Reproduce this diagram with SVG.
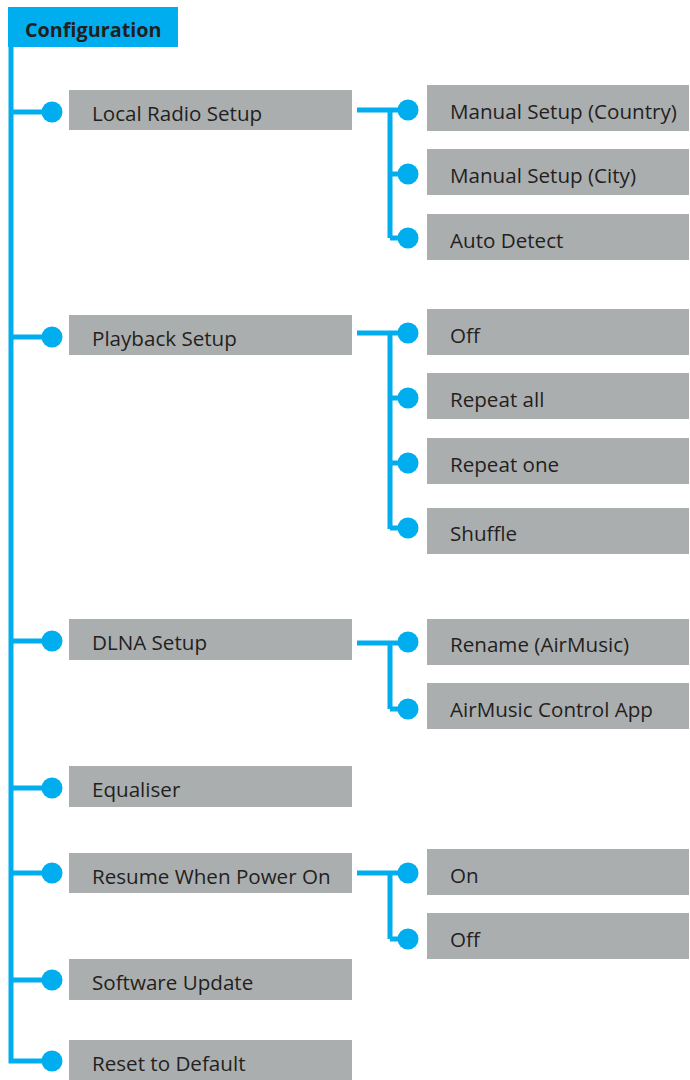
<svg xmlns="http://www.w3.org/2000/svg" width="690" height="1080" viewBox="0 0 690 1080">
<style>
.box{fill:#abaeaf}
.t{font-family:"Open Sans","Noto Sans","Liberation Sans",sans-serif;font-size:20.6px;fill:#231f20}
.ln{stroke:#00aeef;stroke-width:5;fill:none}
.dot{fill:#00aeef}
</style>
<rect width="690" height="1080" fill="#ffffff"/>
<g id="connectors">
  <path class="ln" d="M11,47 V1061 H52"/>
  <path class="ln" d="M11,112 H52 M11,337 H52 M11,641 H52 M11,788 H52 M11,873 H52 M11,980 H52"/>
  <path class="ln" d="M357,110 H408 M390,110 V238 M390,174 H408 M390,238 H408"/>
  <path class="ln" d="M357,333 H408 M390,333 V529 M390,398 H408 M390,463 H408 M390,528 H408"/>
  <path class="ln" d="M357,643 H408 M390,643 V709 M390,709 H408"/>
  <path class="ln" d="M357,873 H408 M390,873 V939 M390,939 H408"/>
  <g class="dot">
    <circle cx="52" cy="112" r="10.5"/><circle cx="52" cy="337" r="10.5"/><circle cx="52" cy="641" r="10.5"/>
    <circle cx="52" cy="788" r="10.5"/><circle cx="52" cy="873" r="10.5"/><circle cx="52" cy="980" r="10.5"/>
    <circle cx="52" cy="1061" r="10.5"/>
    <circle cx="408" cy="110" r="10.5"/><circle cx="408" cy="174" r="10.5"/><circle cx="408" cy="238" r="10.5"/>
    <circle cx="408" cy="333" r="10.5"/><circle cx="408" cy="398" r="10.5"/><circle cx="408" cy="463" r="10.5"/><circle cx="408" cy="528" r="10.5"/>
    <circle cx="408" cy="642" r="10.5"/><circle cx="408" cy="709" r="10.5"/>
    <circle cx="408" cy="873" r="10.5"/><circle cx="408" cy="939" r="10.5"/>
  </g>
</g>
<g id="configuration">
  <rect x="8" y="7" width="170" height="40" fill="#00aeef"/>
  <text x="25" y="37" style="font-family:'Open Sans','Noto Sans','Liberation Sans',sans-serif;font-size:19.8px;font-weight:bold;fill:#231f20">Configuration</text>
</g>
<g id="local-radio-setup"><rect class="box" x="69" y="90" width="283" height="40"/><text class="t" x="92" y="121">Local Radio Setup</text></g>
<g id="manual-setup-country"><rect class="box" x="427" y="85" width="262" height="46"/><text class="t" x="450" y="119">Manual Setup (Country)</text></g>
<g id="manual-setup-city"><rect class="box" x="427" y="149" width="262" height="46"/><text class="t" x="450" y="183">Manual Setup (City)</text></g>
<g id="auto-detect"><rect class="box" x="427" y="214" width="262" height="46"/><text class="t" x="450" y="248">Auto Detect</text></g>
<g id="playback-setup"><rect class="box" x="69" y="315" width="283" height="40"/><text class="t" x="92" y="346">Playback Setup</text></g>
<g id="playback-off"><rect class="box" x="427" y="309" width="262" height="46"/><text class="t" x="450" y="343">Off</text></g>
<g id="repeat-all"><rect class="box" x="427" y="373" width="262" height="46"/><text class="t" x="450" y="407">Repeat all</text></g>
<g id="repeat-one"><rect class="box" x="427" y="438" width="262" height="46"/><text class="t" x="450" y="472">Repeat one</text></g>
<g id="shuffle"><rect class="box" x="427" y="508" width="262" height="46"/><text class="t" x="450" y="541">Shuffle</text></g>
<g id="dlna-setup"><rect class="box" x="69" y="619" width="283" height="41"/><text class="t" x="92" y="650">DLNA Setup</text></g>
<g id="rename-airmusic"><rect class="box" x="427" y="619" width="262" height="46"/><text class="t" x="450" y="652">Rename (AirMusic)</text></g>
<g id="airmusic-control-app"><rect class="box" x="427" y="683" width="262" height="46"/><text class="t" x="450" y="717">AirMusic Control App</text></g>
<g id="equaliser"><rect class="box" x="69" y="766" width="283" height="41"/><text class="t" x="92" y="797">Equaliser</text></g>
<g id="resume-when-power-on"><rect class="box" x="69" y="853" width="283" height="40"/><text class="t" x="92" y="884">Resume When Power On</text></g>
<g id="resume-on"><rect class="box" x="427" y="849" width="262" height="46"/><text class="t" x="450" y="883">On</text></g>
<g id="resume-off"><rect class="box" x="427" y="913" width="262" height="46"/><text class="t" x="450" y="947">Off</text></g>
<g id="software-update"><rect class="box" x="69" y="959" width="283" height="41"/><text class="t" x="92" y="990">Software Update</text></g>
<g id="reset-to-default"><rect class="box" x="69" y="1040" width="283" height="40"/><text class="t" x="92" y="1071">Reset to Default</text></g>
</svg>
